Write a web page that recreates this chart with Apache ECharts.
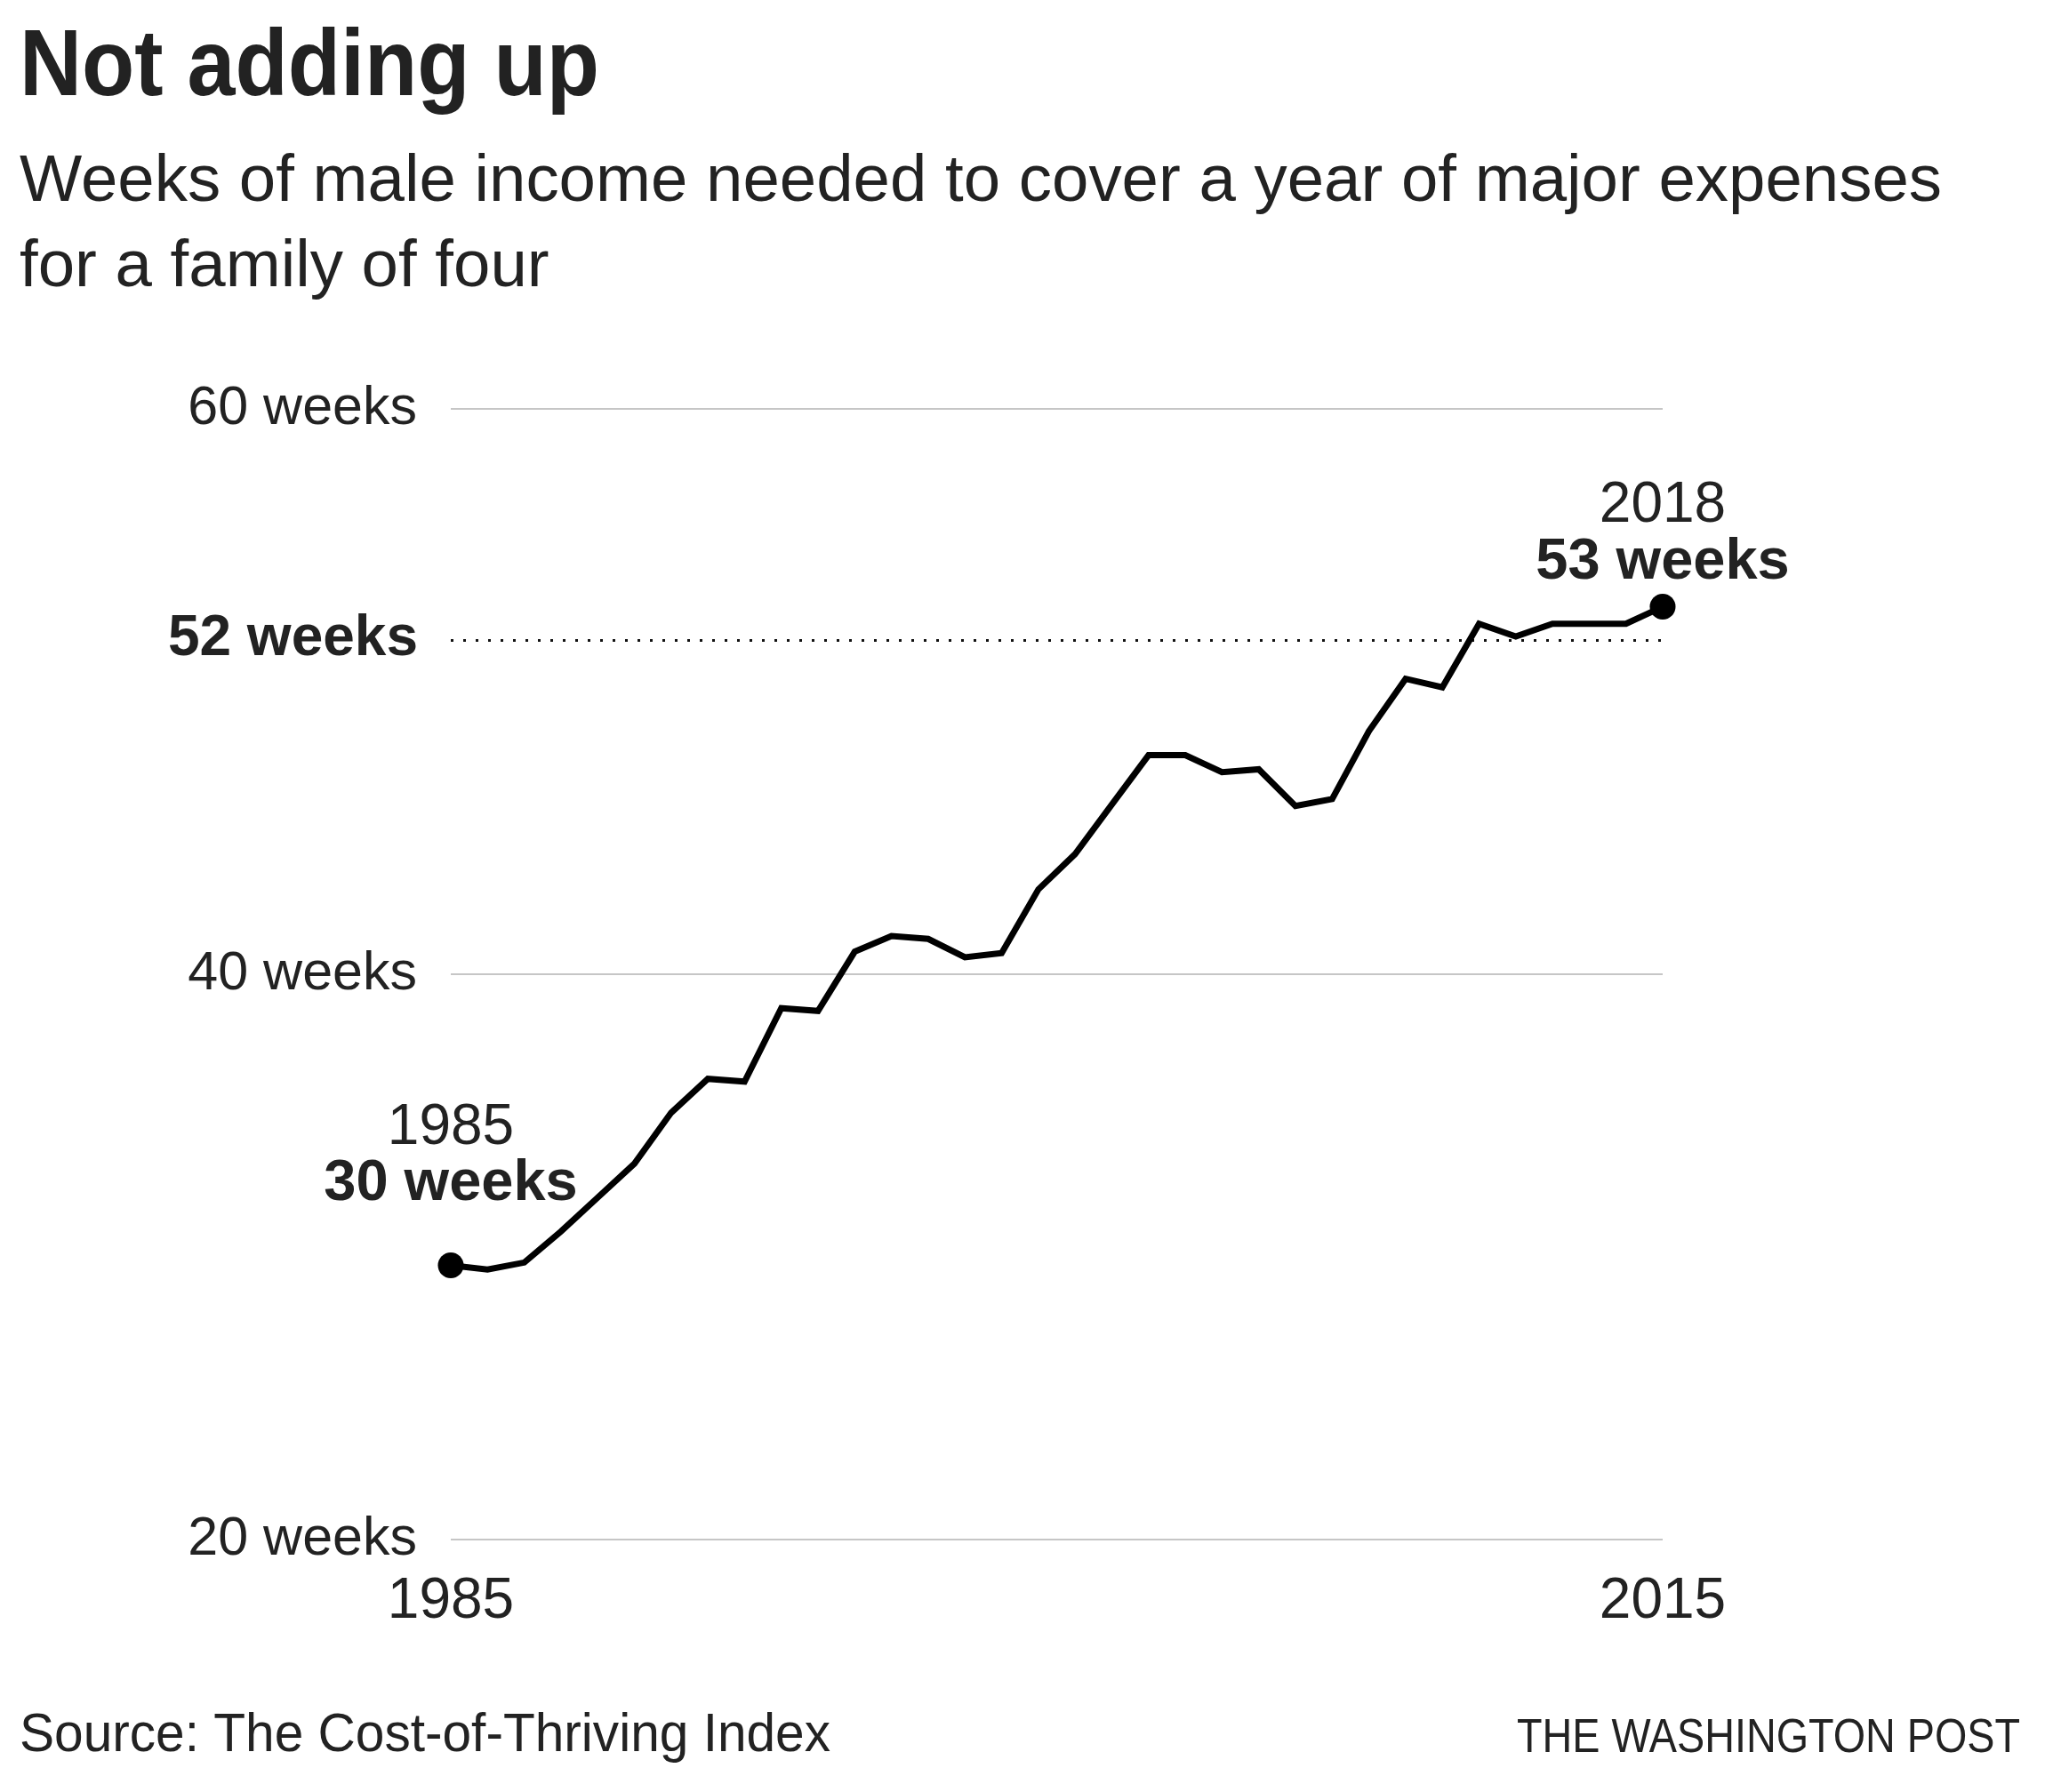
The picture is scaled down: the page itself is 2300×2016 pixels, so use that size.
<!DOCTYPE html>
<html>
<head>
<meta charset="utf-8">
<script src="https://cdn.jsdelivr.net/npm/echarts@6/dist/echarts.min.js"></script>
<style>
  html, body { margin: 0; padding: 0; background: #ffffff; }
  #chart { width: 2300px; height: 2016px; }
</style>
</head>
<body>
<div id="chart"></div>
<script>
// ---- Data ----
const years = [1985, 1986, 1987, 1988, 1989, 1990, 1991, 1992, 1993, 1994,
               1995, 1996, 1997, 1998, 1999, 2000, 2001, 2002, 2003, 2004,
               2005, 2006, 2007, 2008, 2009, 2010, 2011, 2012, 2013, 2014,
               2015, 2016, 2017, 2018];
const weeks = [29.7, 29.55, 29.8, 30.9, 32.1, 33.3, 35.1, 36.3, 36.2, 38.8,
               38.7, 40.8, 41.35, 41.25, 40.6, 40.75, 43.0, 44.25, 46.0, 47.75,
               47.75, 47.15, 47.25, 45.95, 46.2, 48.6, 50.45, 50.15, 52.4, 51.95,
               52.4, 52.4, 52.4, 53.0];
const benchmarkWeeks = 51.83;   // dotted "52 weeks" reference line as drawn
const yTicks = [20, 40, 60];
const xTickLabels = ["1985", "2015"];

const titleText = "Not adding up";
const subtitleLines = ["Weeks of male income needed to cover a year of major expenses", "for a family of four"];
const sourceText = "Source: The Cost-of-Thriving Index";
const creditText = "THE WASHINGTON POST";

// ---- Helpers ----
const ctx = document.createElement('canvas').getContext('2d');
function fitScale(text, font, target) {
  ctx.font = font;
  return target / ctx.measureText(text).width;
}

const TEXT = '#222222';
const titleFont = 'bold 106px "Liberation Sans"';
const subFont = '75px "Liberation Sans"';
const srcFont = '61px "Liberation Sans"';
const creditFont = '53px "Liberation Sans"';

const subScale = fitScale(subtitleLines[0], subFont, 2162);

const lineData = years.map((y, i) => [y, weeks[i]]);
const last = years.length - 1;

function endLabel(i, dist) {
  return {
    value: [years[i], weeks[i]],
    label: {
      show: true,
      position: 'top',
      distance: dist,
      align: 'center',
      formatter: '{y|' + years[i] + '}\n{w|' + Math.round(weeks[i]) + ' weeks}',
      rich: {
        y: { fontSize: 64, fontFamily: 'Liberation Sans', color: TEXT, lineHeight: 63, align: 'center' },
        w: { fontSize: 65, fontWeight: 'bold', fontFamily: 'Liberation Sans', color: TEXT, lineHeight: 63, align: 'center' }
      }
    }
  };
}

const chart = echarts.init(document.getElementById('chart'), null, { renderer: 'canvas' });
chart.setOption({
  backgroundColor: '#ffffff',
  animation: false,
  grid: { left: 507, right: 430, top: 460, bottom: 284 },
  xAxis: {
    type: 'value',
    min: years[0],
    max: years[last],
    interval: years[last] - years[0],
    axisLine: { show: false },
    axisTick: { show: false },
    splitLine: { show: false },
    axisLabel: {
      showMinLabel: true,
      showMaxLabel: true,
      margin: 38,
      fontSize: 64,
      fontFamily: 'Liberation Sans',
      color: TEXT,
      formatter: function (v) { return v === years[0] ? xTickLabels[0] : xTickLabels[1]; }
    }
  },
  yAxis: {
    type: 'value',
    min: yTicks[0],
    max: yTicks[yTicks.length - 1],
    interval: yTicks[1] - yTicks[0],
    axisLine: { show: false },
    axisTick: { show: false },
    splitLine: { show: true, lineStyle: { color: '#c6c6c6', width: 2 } },
    axisLabel: {
      margin: 38,
      fontSize: 61,
      fontFamily: 'Liberation Sans',
      color: TEXT,
      formatter: '{value} weeks'
    }
  },
  series: [
    {
      type: 'line',
      data: lineData,
      showSymbol: false,
      symbol: 'none',
      lineStyle: { color: '#000000', width: 7, join: 'miter' },
      z: 3,
      markLine: {
        silent: true,
        symbol: ['none', 'none'],
        lineStyle: { color: '#111111', width: 3, type: [3, 11] },
        label: {
          show: true,
          position: 'start',
          distance: 37,
          formatter: Math.round(benchmarkWeeks) + ' weeks',
          fontSize: 64,
          fontWeight: 'bold',
          fontFamily: 'Liberation Sans',
          color: TEXT
        },
        data: [{ yAxis: benchmarkWeeks }],
        z: 2
      }
    },
    {
      type: 'scatter',
      symbol: 'circle',
      symbolSize: 29,
      itemStyle: { color: '#000000', opacity: 1 },
      z: 4,
      data: [endLabel(0, 45), endLabel(last, 4)]
    }
  ],
  graphic: [
    {
      type: 'text', x: 22, y: 78, scaleX: fitScale(titleText, titleFont, 652), scaleY: 1,
      style: { text: titleText, font: titleFont, fill: TEXT, align: 'left', verticalAlign: 'middle' }
    },
    {
      type: 'text', x: 22, y: 205, scaleX: subScale, scaleY: 1,
      style: { text: subtitleLines[0], font: subFont, fill: TEXT, align: 'left', verticalAlign: 'middle' }
    },
    {
      type: 'text', x: 22, y: 301, scaleX: subScale, scaleY: 1,
      style: { text: subtitleLines[1], font: subFont, fill: TEXT, align: 'left', verticalAlign: 'middle' }
    },
    {
      type: 'text', x: 22, y: 1953, scaleX: fitScale(sourceText, srcFont, 912), scaleY: 1,
      style: { text: sourceText, font: srcFont, fill: TEXT, align: 'left', verticalAlign: 'middle' }
    },
    {
      type: 'text', x: 2272, y: 1956, scaleX: fitScale(creditText, creditFont, 566), scaleY: 1,
      style: { text: creditText, font: creditFont, fill: TEXT, align: 'right', verticalAlign: 'middle' }
    }
  ]
});
</script>
</body>
</html>
